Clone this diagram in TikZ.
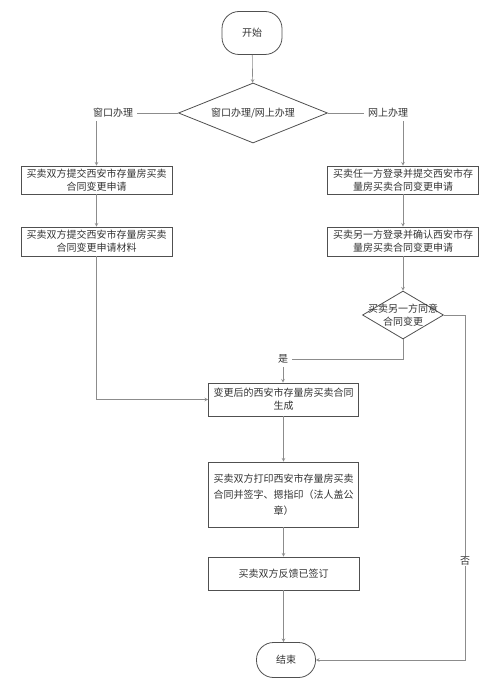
\documentclass[tikz,border=0pt]{standalone}
\usepackage{fontspec}
\setmainfont{Noto Sans CJK SC}
\usetikzlibrary{shapes.geometric}
\definecolor{linegray}{HTML}{8C8C8C}
\definecolor{boxgray}{HTML}{505050}
\definecolor{textgray}{HTML}{333333}
\begin{document}
\begin{tikzpicture}[>=stealth, x=1pt, y=-1pt,
    every node/.style={text=textgray, font=\fontsize{10}{13}\selectfont},
    terminal/.style={draw=boxgray, thick, rounded corners=17pt, minimum width=60pt},
    process/.style={draw=boxgray, thick, minimum width=151pt, align=center, inner sep=1pt},
    decision/.style={draw=boxgray, thick, diamond, inner sep=0pt},
    flow/.style={draw=linegray, semithick}]
\useasboundingbox (0,0) rectangle (499,687);
\node[terminal, minimum height=43pt] (start) at (252,33) {开始};
\node[decision, minimum width=149pt, minimum height=60pt,
    label={center:窗口办理/网上办理}] (mode) at (253,113) {};
\node (win) at (113,113) {窗口办理};
\node (web) at (388,113) {网上办理};
\node[process, minimum height=28pt] (submit) at (96.5,180) {买卖双方提交西安市存量房买卖\\合同变更申请};
\node[process, minimum height=29pt] (material) at (96.5,241.5) {买卖双方提交西安市存量房买卖\\合同变更申请材料};
\node[process, minimum height=28pt] (login) at (403,180) {买卖任一方登录并提交西安市存\\量房买卖合同变更申请};
\node[process, minimum height=29pt] (confirm) at (403,241.5) {买卖另一方登录并确认西安市存\\量房买卖合同变更申请};
\node[decision, minimum width=81pt, minimum height=48pt,
    label={[align=center]center:买卖另一方同意\\合同变更}] (agree) at (403,315) {};
\node (yes) at (283,359) {是};
\node[process, minimum width=150pt, minimum height=33pt] (new) at (283.5,399.5) {变更后的西安市存量房买卖合同\\生成};
\node[process, minimum width=150pt, minimum height=65pt, font=\fontsize{10}{16}\selectfont] (print) at (283.5,494.5) {买卖双方打印西安市存量房买卖\\合同并签字、摁指印（法人盖公\\章）};
\node[process, minimum width=151pt, minimum height=33pt] (signed) at (283.5,573.5) {买卖双方反馈已签订};
\node[terminal, minimum height=35pt, minimum width=59pt] (end) at (286,660) {结束};
\coordinate (turn) at (465,315);

\draw[flow,->](start)--(mode);
\draw[flow](mode.west)--(win.east);
\draw[flow](mode.east)--(web.west);
\draw[flow,->](submit.north |- win.south)--(submit.north);
\draw[flow,->](login.north |- web.south)--(login.north);
\draw[flow,->](submit)--(material);
\draw[flow,->](login)--(confirm);
\draw[flow,->](confirm)--(agree);
\draw[flow](agree.south)|-(yes.east);
\draw[flow,->](yes.south)--(new.north -| yes.south);
\draw[flow,->](material.south)|-(new.west);
\draw[flow,->](agree.east)--(turn)|-(end.east);
\node[fill=white, inner sep=1pt] (no) at (465,561) {否};
\draw[flow,->](new)--(print);
\draw[flow,->](print)--(signed);
\draw[flow,->](signed.south)--(end.north -| signed.south);
\end{tikzpicture}
\end{document}
